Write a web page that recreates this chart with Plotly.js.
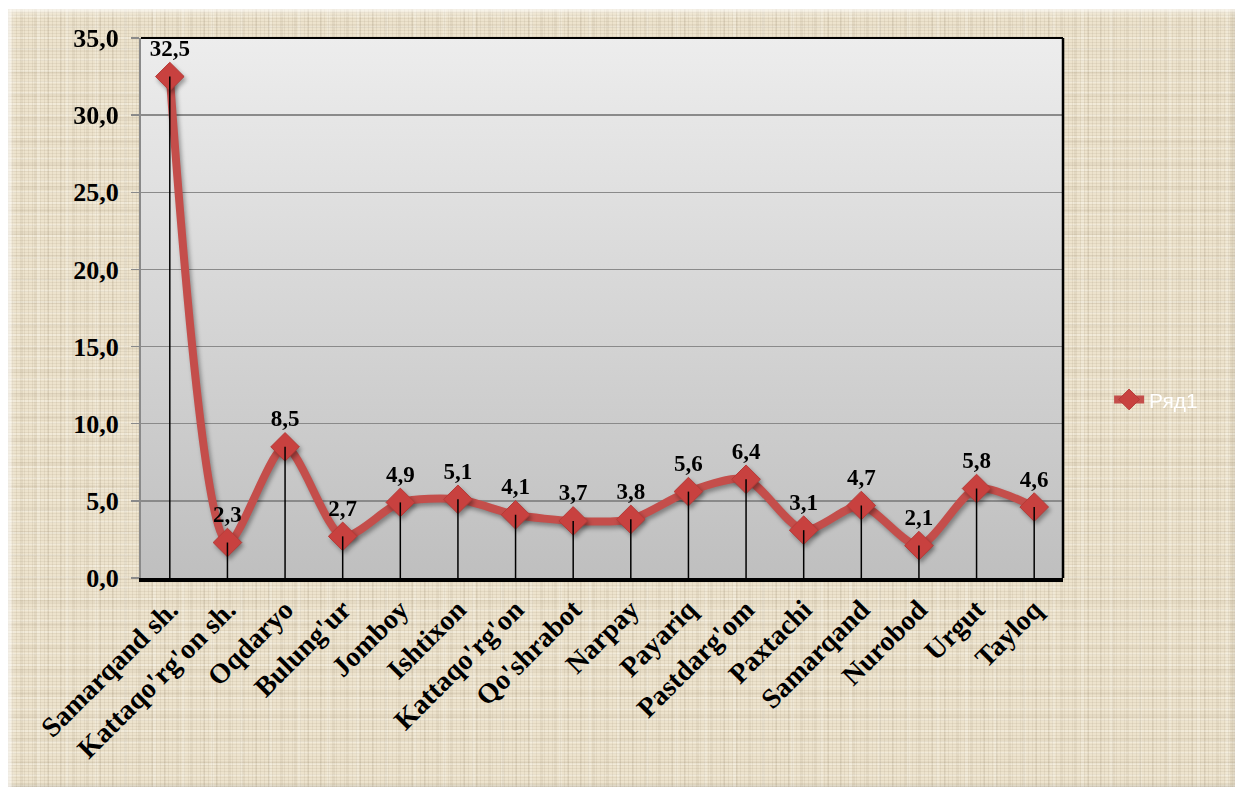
<!DOCTYPE html>
<html>
<head>
<meta charset="utf-8">
<script src="https://cdn.plot.ly/plotly-3.0.1.min.js"></script>
<style>
  html, body { margin:0; padding:0; background:#ffffff; width:1235px; height:787px; overflow:hidden; }
  #bg {
    position:absolute; left:8px; top:9px; width:1227px; height:778px;
    background-color:#ede3cd;
    background-image:
      repeating-linear-gradient(0deg, rgba(120,100,70,0.09) 0px, rgba(120,100,70,0.09) 1px, rgba(255,255,255,0) 1px, rgba(255,255,255,0) 3px),
      repeating-linear-gradient(90deg, rgba(120,100,70,0.09) 0px, rgba(120,100,70,0.09) 1px, rgba(255,255,255,0) 1px, rgba(255,255,255,0) 4px),
      repeating-linear-gradient(0deg, rgba(255,255,250,0.25) 0px, rgba(255,255,250,0.25) 2px, rgba(255,255,255,0) 2px, rgba(255,255,255,0) 11px),
      repeating-linear-gradient(90deg, rgba(90,70,40,0.07) 0px, rgba(90,70,40,0.07) 2px, rgba(255,255,255,0) 2px, rgba(255,255,255,0) 13px),
      repeating-linear-gradient(90deg, rgba(255,255,250,0.18) 0px, rgba(255,255,250,0.18) 3px, rgba(255,255,255,0) 3px, rgba(255,255,255,0) 29px),
      repeating-linear-gradient(0deg, rgba(90,70,40,0.05) 0px, rgba(90,70,40,0.05) 3px, rgba(255,255,255,0) 3px, rgba(255,255,255,0) 23px);
    box-shadow: inset 3px 3px 4px rgba(255,255,255,0.7), inset -2px -2px 3px rgba(0,0,0,0.08);
  }
  #chart { position:absolute; left:0; top:0; width:1235px; height:787px; }
  .scatterlayer .trace:first-child .lines, .scatterlayer .trace:first-child .points {
    filter: drop-shadow(2px 3px 2px rgba(0,0,0,0.35));
  }
</style>
</head>
<body>
<div id="bg"></div>
<div id="chart"></div>
<script>
const categories = ["Samarqand sh.", "Kattaqo'rg'on sh.", "Oqdaryo", "Bulung'ur", "Jomboy", "Ishtixon",
  "Kattaqo'rg'on", "Qo'shrabot", "Narpay", "Payariq", "Pastdarg'om", "Paxtachi", "Samarqand",
  "Nurobod", "Urgut", "Tayloq"];
const values = [32.5, 2.3, 8.5, 2.7, 4.9, 5.1, 4.1, 3.7, 3.8, 5.6, 6.4, 3.1, 4.7, 2.1, 5.8, 4.6];
const seriesName = "Ряд1";
const yTicks = [0, 5, 10, 15, 20, 25, 30, 35];

const serif = "Liberation Serif, Times New Roman, serif";
const red = "#c44e4b";

const gradSvg = "<svg xmlns='http://www.w3.org/2000/svg' width='100' height='100' preserveAspectRatio='none'>" +
  "<defs><linearGradient id='g' x1='0' y1='0' x2='0' y2='1'>" +
  "<stop offset='0' stop-color='#ededed'/><stop offset='1' stop-color='#bfbfbf'/></linearGradient></defs>" +
  "<rect width='100' height='100' fill='url(#g)'/></svg>";
const gradUri = "data:image/svg+xml;charset=utf-8," + encodeURIComponent(gradSvg);

const mainTrace = {
  x: categories, y: values, name: seriesName, type: "scatter",
  mode: "lines+markers+text",
  line: { color: red, width: 8, shape: "spline", smoothing: 0.75 },
  marker: { symbol: "diamond", size: 22, color: "#c8413f", line: { color: "#b53a37", width: 1 } },
  text: values.map(v => v.toFixed(1).replace(".", ",")),
  textposition: "top center",
  textfont: { family: serif, size: 23, color: "#000000", weight: "bold" },
  cliponaxis: false,
  hoverinfo: "skip"
};

const dropTrace = {
  x: categories, y: values, type: "scatter", mode: "markers",
  marker: { size: 1, opacity: 0 },
  error_y: { type: "data", symmetric: false, array: values.map(() => 0), arrayminus: values,
             width: 0, thickness: 1.5, color: "#000000" },
  showlegend: false, hoverinfo: "skip"
};

const layout = {
  width: 1235, height: 787,
  margin: { l: 141, r: 172, t: 38, b: 209 },
  paper_bgcolor: "rgba(0,0,0,0)",
  plot_bgcolor: "rgba(0,0,0,0)",
  separators: ", ",
  showlegend: true,
  legend: {
    x: 1.05, y: 0.33, xanchor: "left", yanchor: "middle",
    bgcolor: "rgba(0,0,0,0)",
    font: { family: "Liberation Sans, Arial, sans-serif", size: 21, color: "#ffffff" }
  },
  xaxis: {
    type: "category", range: [-0.5, categories.length - 0.5],
    showgrid: false, zeroline: false,
    showline: true, linecolor: "#000000", linewidth: 4,
    ticks: "", tickangle: -45,
    tickfont: { family: serif, size: 28, color: "#000000", weight: "bold" }
  },
  yaxis: {
    range: [0, 35], tickvals: yTicks, tickformat: ".1f",
    showgrid: true, gridcolor: "#8a8a8a", gridwidth: 1.5,
    zeroline: false,
    showline: true, linecolor: "#8a8a8a", linewidth: 2,
    ticks: "outside", ticklen: 8, tickcolor: "#8a8a8a", tickwidth: 1.5,
    ticklabelstandoff: 7,
    tickfont: { family: serif, size: 26, color: "#000000", weight: "bold" }
  },
  images: [{
    source: gradUri, xref: "paper", yref: "paper", x: 0, y: 1, sizex: 1, sizey: 1,
    xanchor: "left", yanchor: "top", sizing: "stretch", layer: "below"
  }],
  shapes: [
    { type: "line", xref: "paper", yref: "paper", x0: 0, x1: 1, y0: 1, y1: 1, line: { color: "#000000", width: 2 } },
    { type: "line", xref: "paper", yref: "paper", x0: 1, x1: 1, y0: 0, y1: 1, line: { color: "#000000", width: 2.5 } }
  ]
};

Plotly.newPlot("chart", [mainTrace, dropTrace], layout, { displayModeBar: false, staticPlot: true });
</script>
</body>
</html>
